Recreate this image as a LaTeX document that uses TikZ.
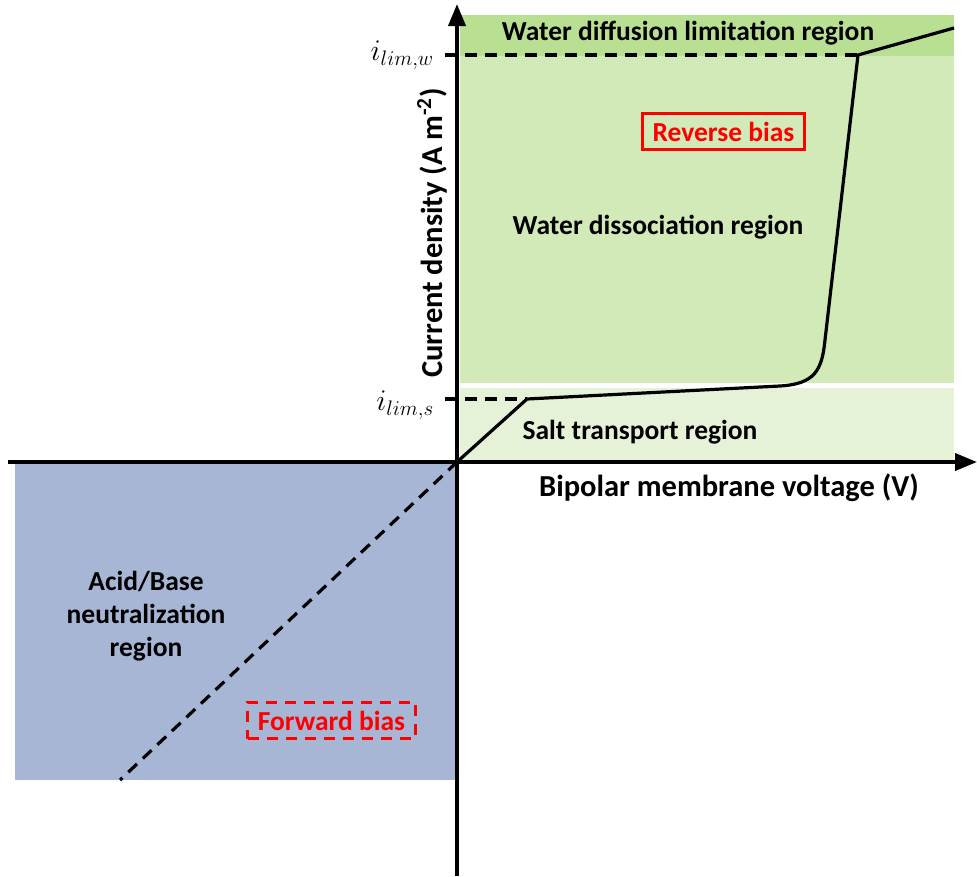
\RequirePackage{fix-cm}
\documentclass[tikz,border=0pt]{standalone}
\usepackage{fontspec}
\setmainfont{Carlito}
\usetikzlibrary{arrows.meta}
\definecolor{wdl}{HTML}{B9DF92}
\definecolor{wdr}{HTML}{D2EAB8}
\definecolor{str}{HTML}{E6F2D8}
\definecolor{abn}{HTML}{A7B6D4}
\definecolor{biasred}{HTML}{FF0000}
\tikzset{
  lbl/.style={font=\fontsize{27.5}{33}\selectfont\bfseries, align=center, inner sep=0pt},
  axlbl/.style={font=\fontsize{30.5}{36}\selectfont\bfseries, inner sep=0pt},
  axis/.style={line width=3.8pt, -{Triangle[length=22pt,width=17pt]}},
  curve/.style={line width=3.2pt, line join=round},
  guide/.style={line width=3.2pt, dash pattern=on 12pt off 8pt},
  biasbox/.style={draw=biasred, line width=3pt, text=biasred, font=\fontsize{27.5}{33}\selectfont\bfseries, inner xsep=10pt, inner ysep=8.5pt},
  mathlbl/.style={font=\fontsize{30}{32}\selectfont, inner sep=0pt}
}
\begin{document}
\begin{tikzpicture}[x=1pt,y=-1pt]
\useasboundingbox (0,0) rectangle (977,876);
% coloured regions
\fill[wdl] (460,15) rectangle (954,56);
\fill[wdr] (460,56) rectangle (954,383);
\fill[str] (460,388) rectangle (954,460);
\fill[abn] (15,464) rectangle (455,780);
% reference points
\coordinate (O) at (457,462);
\coordinate (ls) at (527,399);
\coordinate (knee) at (780,386);
\coordinate (bend) at (825,340);
\coordinate (lw) at (858,55);
\coordinate (top) at (954,28);
\coordinate (fwd) at (120,780);
\coordinate (ylw) at (445,55);
\coordinate (yls) at (445,399);
% limiting current guides
\draw[guide] (ylw) -- (lw);
\draw[guide] (yls) -- (ls);
\draw[guide] (O) -- (fwd);
% polarisation curve
\draw[curve] (O) -- (ls) -- (knee) .. controls (815,384) and (822,370) .. (bend) -- (lw) -- (top);
% axes
\draw[axis] (457,876) -- (457,4);
\draw[axis] (8,462) -- (977,462);
% labels
\node[lbl] (tdl) at (688,33) {Water diffusion limitation region};
\node[lbl] (tdr) at (658,227) {Water dissociation region};
\node[lbl] (tst) at (640,432) {Salt transport region};
\node[axlbl] (txa) at (729,488) {Bipolar membrane voltage (V)};
\node[axlbl, rotate=90] (tya) at (432,233) {Current density (A m\textsuperscript{-2})};
\node[lbl, text width=220pt] (tab) at (146,616) {Acid/Base\\neutralization\\region};
\node[biasbox] (rev) at (723.5,131.5) {Reverse bias};
\node[biasbox, dash pattern=on 11pt off 8pt] (fwdb) at (331.5,720.5) {Forward bias};
\node[mathlbl, anchor=east] (ilw) at (434,55) {$i_{lim,w}$};
\node[mathlbl, anchor=east] (ils) at (434,405) {$i_{lim,s}$};
\end{tikzpicture}
\end{document}
